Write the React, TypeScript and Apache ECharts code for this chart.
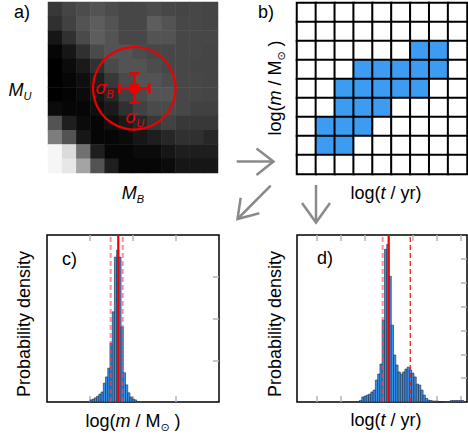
import React, { useEffect, useRef } from "react";
import * as echarts from "echarts";

const FONT = '"Liberation Sans", Arial, "DejaVu Sans", sans-serif';

// Panel a: estimated black-point density on a 12x12 grid (rows top -> bottom)
const aDensity: number[][] = [
  [0.74, 0.68, 0.65, 0.62, 0.65, 0.67, 0.67, 0.65, 0.67, 0.68, 0.67, 0.68],
  [0.78, 0.7, 0.62, 0.58, 0.62, 0.67, 0.67, 0.58, 0.62, 0.67, 0.67, 0.68],
  [0.9, 0.78, 0.66, 0.58, 0.62, 0.67, 0.67, 0.62, 0.62, 0.67, 0.67, 0.67],
  [0.97, 0.9, 0.78, 0.66, 0.62, 0.62, 0.65, 0.67, 0.67, 0.67, 0.67, 0.68],
  [1, 0.95, 0.88, 0.78, 0.66, 0.62, 0.62, 0.65, 0.67, 0.67, 0.68, 0.68],
  [1, 0.97, 0.93, 0.86, 0.74, 0.66, 0.62, 0.62, 0.65, 0.67, 0.67, 0.68],
  [1, 0.98, 0.95, 0.9, 0.82, 0.7, 0.66, 0.62, 0.62, 0.67, 0.67, 0.68],
  [0.95, 0.97, 0.97, 0.93, 0.88, 0.78, 0.7, 0.66, 0.66, 0.67, 0.7, 0.7],
  [0.62, 0.86, 0.95, 0.97, 0.93, 0.88, 0.82, 0.74, 0.7, 0.74, 0.74, 0.74],
  [0.45, 0.62, 0.9, 0.97, 0.97, 0.95, 0.9, 0.86, 0.82, 0.78, 0.78, 0.82],
  [0.03, 0.12, 0.5, 0.86, 0.97, 0.97, 0.95, 0.95, 0.9, 0.86, 0.86, 0.86],
  [0.03, 0.08, 0.3, 0.62, 0.86, 0.97, 0.97, 0.97, 0.95, 0.9, 0.9, 0.9],
];

// Panel b: 9x9 occupancy grid (rows top -> bottom), 1 = filled
const bCells: number[][] = [
  [0, 0, 0, 0, 0, 0, 0, 0, 0],
  [0, 0, 0, 0, 0, 0, 0, 0, 0],
  [0, 0, 0, 0, 0, 0, 1, 1, 0],
  [0, 0, 0, 1, 1, 1, 1, 1, 0],
  [0, 0, 1, 1, 1, 1, 1, 0, 0],
  [0, 0, 1, 1, 1, 0, 0, 0, 0],
  [0, 1, 1, 1, 0, 0, 0, 0, 0],
  [0, 1, 1, 0, 0, 0, 0, 0, 0],
  [0, 0, 0, 0, 0, 0, 0, 0, 0],
];

// Panel c: mass histogram
const cBinStart = 1.0;
const cBinWidth = 0.0516;
const cHeights = [
  0.05, 0.07, 0.1, 0.14, 0.19, 0.24, 0.45, 0.6, 0.81, 1.41, 2.16, 3.47, 3.64,
  3.47, 1.8, 0.7, 0.41, 0.22, 0.12, 0.07, 0.05,
];
const cMedian = 1.658;
const cLower = 1.48;
const cUpper = 1.76;
const cXTicks = [1, 2, 3];
const cYTicks = [1, 2, 3];

// Panel d: age histogram
const dBinStart = 1.769;
const dBinWidth = 0.0944;
const dHeights = [
  0.07, 0.21, 0.25, 0.29, 0.33, 0.42, 0.5, 0.92, 1.17, 1.59, 3.43, 6.4, 6.61,
  5.27, 3.22, 1.97, 1.55, 1.26, 1.17, 1.26, 1.38, 1.46, 1.34, 1.21, 1.05, 0.75,
  0.71, 0.5, 0.29, 0.15, 0.08, 0.06, 0.04, 0.04, 0.03, 0.02, 0.02, 0, 0, 0,
  0.06, 0.06, 0.06, 0.06, 0.06, 0.06,
];
const dMedian = 2.983;
const dLower = 2.733;
const dUpper = 3.881;
const dXTicks = [0, 1, 2, 3, 4, 5, 6];
const dYTicks = [1, 2, 3, 4, 5, 6];

const BLUE = "#3c9cf2";
const HIST_BLUE = "#3a93e8";
const RED = "#ee0000";
const GRAY = "#8a8a8a";

function histData(start: number, width: number, heights: number[]) {
  return heights.map((h, i) => [start + i * width, start + (i + 1) * width, h]);
}

const renderBar = (params: any, api: any) => {
  const x0 = api.value(0);
  const x1 = api.value(1);
  const h = api.value(2);
  if (!h) return null;
  const p0 = api.coord([x0, h]);
  const p1 = api.coord([x1, 0]);
  return {
    type: "rect",
    shape: { x: p0[0], y: p0[1], width: p1[0] - p0[0], height: p1[1] - p0[1] },
    style: { fill: HIST_BLUE, stroke: "#17263d", lineWidth: 0.6 },
  };
};

function valueAxis(gridIndex: number, position: string, min: number, max: number, ticks: number[]) {
  return {
    type: "value",
    gridIndex,
    position,
    min,
    max,
    axisLine: { show: false, onZero: false },
    axisTick: {
      show: true,
      inside: true,
      length: 6,
      lineStyle: { color: "#b5b5b5", width: 1.5 },
      customValues: ticks,
    },
    axisLabel: { show: false, customValues: ticks },
    splitLine: { show: false },
  };
}

function vline(x: number, xi: number, yi: number, ymax: number, color: string, width: number, type: any) {
  return {
    type: "line",
    xAxisIndex: xi,
    yAxisIndex: yi,
    data: [
      [x, 0],
      [x, ymax],
    ],
    symbol: "none",
    silent: true,
    lineStyle: { color, width, type },
    z: 5,
  };
}

function txt(x: number, y: number, text: string, rotation = 0, rich: any = undefined, align = "center") {
  return {
    type: "text",
    x,
    y,
    rotation,
    z: 100,
    style: {
      text,
      fontSize: 18,
      fontFamily: FONT,
      fill: "#000",
      align,
      verticalAlign: "middle",
      lineHeight: 22,
      rich,
    },
  };
}

const richLabel = {
  i: { fontStyle: "italic", fontSize: 18, fontFamily: FONT, lineHeight: 22 },
  s: { fontSize: 11, fontFamily: FONT, verticalAlign: "bottom", lineHeight: 12 },
};

const richM = {
  i: { fontStyle: "italic", fontSize: 18, fontFamily: FONT, lineHeight: 22 },
  s: { fontStyle: "italic", fontSize: 11, fontFamily: FONT, verticalAlign: "bottom", lineHeight: 12 },
};

const richSigma = {
  g: { fontStyle: "italic", fontSize: 18, fontFamily: FONT, fill: RED, lineHeight: 22 },
  s: { fontStyle: "italic", fontSize: 11, fontFamily: FONT, fill: RED, verticalAlign: "bottom", lineHeight: 12 },
};

function line(x1: number, y1: number, x2: number, y2: number, color: string, w: number) {
  return { type: "line", z: 100, shape: { x1, y1, x2, y2 }, style: { stroke: color, lineWidth: w } };
}

function poly(points: number[][], color: string, w: number) {
  return { type: "polyline", z: 100, shape: { points }, style: { stroke: color, lineWidth: w, fill: "none" } };
}

export default function App() {
  const ref = useRef<HTMLDivElement>(null);

  useEffect(() => {
    if (!ref.current) return;
    const chart = echarts.init(ref.current, undefined, { renderer: "svg" });

    const aData: number[][] = [];
    aDensity.forEach((row, r) => row.forEach((v, c) => aData.push([c, r, v])));
    const bData: number[][] = [];
    bCells.forEach((row, r) => row.forEach((v, c) => bData.push([c, r, v])));

    const cat = (n: number) => Array.from({ length: n }, (_, i) => String(i));

    const option: any = {
      animation: false,
      grid: [
        { left: 48, top: 2, width: 170, height: 171 },
        { left: 297, top: 3, width: 170, height: 171 },
        { left: 47, top: 235, width: 172, height: 167, show: true, borderColor: "#000", borderWidth: 1.5, backgroundColor: "transparent" },
        { left: 297, top: 235, width: 170, height: 167, show: true, borderColor: "#000", borderWidth: 1.5, backgroundColor: "transparent" },
      ],
      xAxis: [
        { type: "category", gridIndex: 0, data: cat(12), show: false },
        { type: "category", gridIndex: 1, data: cat(9), show: false },
        valueAxis(2, "bottom", 0, 4, cXTicks),
        valueAxis(2, "top", 0, 4, cXTicks),
        valueAxis(3, "bottom", -0.83, 6.24, dXTicks),
        valueAxis(3, "top", -0.83, 6.24, dXTicks),
      ],
      yAxis: [
        { type: "category", gridIndex: 0, data: cat(12), inverse: true, show: false },
        { type: "category", gridIndex: 1, data: cat(9), inverse: true, show: false },
        valueAxis(2, "right", 0, 4, cYTicks),
        valueAxis(3, "right", 0, 7, dYTicks),
      ],
      visualMap: [
        {
          type: "continuous",
          seriesIndex: 0,
          dimension: 2,
          min: 0,
          max: 1,
          show: false,
          inRange: { color: ["#ffffff", "#9a9a9a", "#484848", "#000000"] },
        },
        {
          type: "piecewise",
          seriesIndex: 1,
          dimension: 2,
          show: false,
          pieces: [
            { value: 0, color: "#ffffff" },
            { value: 1, color: BLUE },
          ],
        },
      ],
      series: [
        {
          type: "heatmap",
          xAxisIndex: 0,
          yAxisIndex: 0,
          data: aData,
          silent: true,
          itemStyle: { borderWidth: 0 },
        },
        {
          type: "heatmap",
          xAxisIndex: 1,
          yAxisIndex: 1,
          data: bData,
          silent: true,
          itemStyle: { borderColor: "#000", borderWidth: 2 },
        },
        {
          type: "custom",
          xAxisIndex: 2,
          yAxisIndex: 2,
          data: histData(cBinStart, cBinWidth, cHeights),
          encode: { x: [0, 1], y: 2 },
          renderItem: renderBar,
          silent: true,
        },
        vline(cLower, 2, 2, 4, "rgba(255,70,70,0.6)", 2, [5, 3]),
        vline(cUpper, 2, 2, 4, "rgba(255,70,70,0.6)", 2, [5, 3]),
        vline(cMedian, 2, 2, 4, RED, 2.2, "solid"),
        {
          type: "custom",
          xAxisIndex: 4,
          yAxisIndex: 3,
          data: histData(dBinStart, dBinWidth, dHeights),
          encode: { x: [0, 1], y: 2 },
          renderItem: renderBar,
          silent: true,
        },
        vline(dLower, 4, 3, 7, "rgba(255,70,70,0.6)", 2, [5, 3]),
        vline(dUpper, 4, 3, 7, "#ff1a1a", 1.3, [5, 3]),
        vline(dMedian, 4, 3, 7, RED, 2.2, "solid"),
      ],
      graphic: [
        // panel a annotations
        { type: "circle", z: 100, shape: { cx: 134.3, cy: 88.3, r: 41.3 }, style: { fill: "none", stroke: RED, lineWidth: 2.2 } },
        line(119.3, 88.3, 149.3, 88.3, RED, 2.5),
        line(119.3, 83.3, 119.3, 93.3, RED, 2.5),
        line(149.3, 83.3, 149.3, 93.3, RED, 2.5),
        line(134.3, 73.3, 134.3, 102.7, RED, 2.5),
        line(129.3, 73.3, 139.3, 73.3, RED, 2.5),
        line(129.3, 102.7, 139.3, 102.7, RED, 2.5),
        { type: "circle", z: 100, shape: { cx: 134.3, cy: 88.3, r: 5.5 }, style: { fill: RED } },
        txt(95.5, 88, "{g|σ}{s|B}", 0, richSigma, "left"),
        txt(125.5, 117, "{g|σ}{s|U}", 0, richSigma, "left"),
        // panel letters
        txt(14, 12, "a)", 0, undefined, "left"),
        txt(258, 12, "b)", 0, undefined, "left"),
        txt(62, 259, "c)", 0, undefined, "left"),
        txt(317, 258, "d)", 0, undefined, "left"),
        // axis labels
        txt(20, 90, "{i|M}{s|U}", 0, richM),
        txt(133, 193, "{i|M}{s|B}", 0, richM),
        txt(275, 88, "log({i|m} / M{s|⊙} )", Math.PI / 2, richLabel),
        txt(386, 193, "log({i|t} / yr)", 0, richLabel),
        txt(24, 324, "Probability density", Math.PI / 2),
        txt(275, 324, "Probability density", Math.PI / 2),
        txt(133, 421, "log({i|m} / M{s|⊙} )", 0, richLabel),
        txt(386, 420, "log({i|t} / yr)", 0, richLabel),
        // arrows
        line(236.7, 161.5, 273.5, 161.5, GRAY, 2.5),
        poly([[256.5, 148.5], [273.5, 161.5], [256.5, 175]], GRAY, 2.5),
        line(270.7, 185.7, 237.5, 219, GRAY, 2.5),
        poly([[240.7, 197.7], [237.5, 219], [259.3, 213.3]], GRAY, 2.5),
        line(316, 185, 316, 222.5, GRAY, 2.5),
        poly([[302, 203], [316, 222.5], [330, 203]], GRAY, 2.5),
      ],
    };

    chart.setOption(option);
    return () => chart.dispose();
  }, []);

  return (
    <div
      ref={ref}
      style={{ position: "fixed", left: 0, top: 0, width: 468, height: 436, background: "#fff" }}
    />
  );
}
